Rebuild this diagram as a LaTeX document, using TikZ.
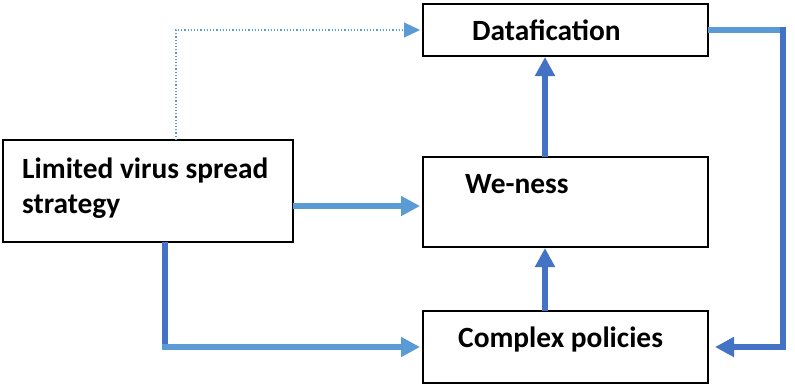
\documentclass[tikz,border=0pt]{standalone}
\usepackage{fontspec}
\setmainfont{Carlito}
\usetikzlibrary{arrows.meta}
\definecolor{lightblue}{HTML}{5B9BD5}
\definecolor{darkblue}{HTML}{4472C4}
\tikzset{
  box/.style={draw=black, line width=1.8bp, inner sep=0pt, outer sep=0pt},
  label/.style={font=\fontsize{29.5}{35}\selectfont\bfseries, inner sep=0pt, anchor=base west},
  lightline/.style={draw=lightblue, line width=5.5bp, line join=miter},
  darkline/.style={draw=darkblue, line width=5.5bp, line join=miter},
  bigtip/.style={-{Triangle[length=19bp,width=19bp]}},
  dotline/.style={draw=lightblue, line width=1.2bp, dash pattern=on 1.2bp off 2bp,
    -{Triangle[length=16bp,width=15bp]}},
}
\begin{document}
\begin{tikzpicture}[x=1bp,y=-1bp]
\useasboundingbox[fill=white] (0,0) rectangle (795,385);

% boxes
\node[box, minimum width=290bp, minimum height=102bp] (lvs) at (148,191) {};
\node[box, minimum width=285bp, minimum height=52bp]  (df)  at (565.5,30) {};
\node[box, minimum width=285bp, minimum height=90bp]  (we)  at (565.5,202) {};
\node[box, minimum width=285bp, minimum height=72bp]  (cp)  at (565.5,347) {};

% texts
\node[label] (t1) at (22,178) {Limited virus spread};
\node[label] (t2) at (22,213) {strategy};
\node[label] (t3) at (472,40) {Datafication};
\node[label] (t4) at (465,193) {We-ness};
\node[label] (t5) at (458,347) {Complex policies};

% helper coordinates for routing
\coordinate (dotx) at (176,0);
\coordinate (ya) at (0,206);
\coordinate (cx) at (165,0);
\coordinate (vx) at (545,0);
\coordinate (rx) at (783,0);

% dotted link to Datafication
\draw[dotline, shorten >=3bp] (lvs.north -| dotx) |- (df.west);

% strategy -> We-ness
\draw[lightline, bigtip, shorten >=3bp] (lvs.east |- ya) -- (we.west |- ya);

% strategy -> Complex policies
\draw[lightline, bigtip, shorten >=3bp] (lvs.south -| cx) |- (cp.west);
\draw[darkline] (lvs.south -| cx) -- ([yshift=2.75bp]cx |- cp.west);

% vertical links in the middle column
\draw[darkline, bigtip, shorten >=1bp] (we.north -| vx) -- (df.south -| vx);
\draw[darkline, bigtip, shorten >=1bp] (cp.north -| vx) -- (we.south -| vx);

% feedback loop from Datafication back to Complex policies
\draw[darkline, bigtip, shorten >=7bp] (df.east) -- (df.east -| rx) |- (cp.east);
\draw[lightline] (df.east) -- ([xshift=-2.75bp]df.east -| rx);
\end{tikzpicture}
\end{document}
